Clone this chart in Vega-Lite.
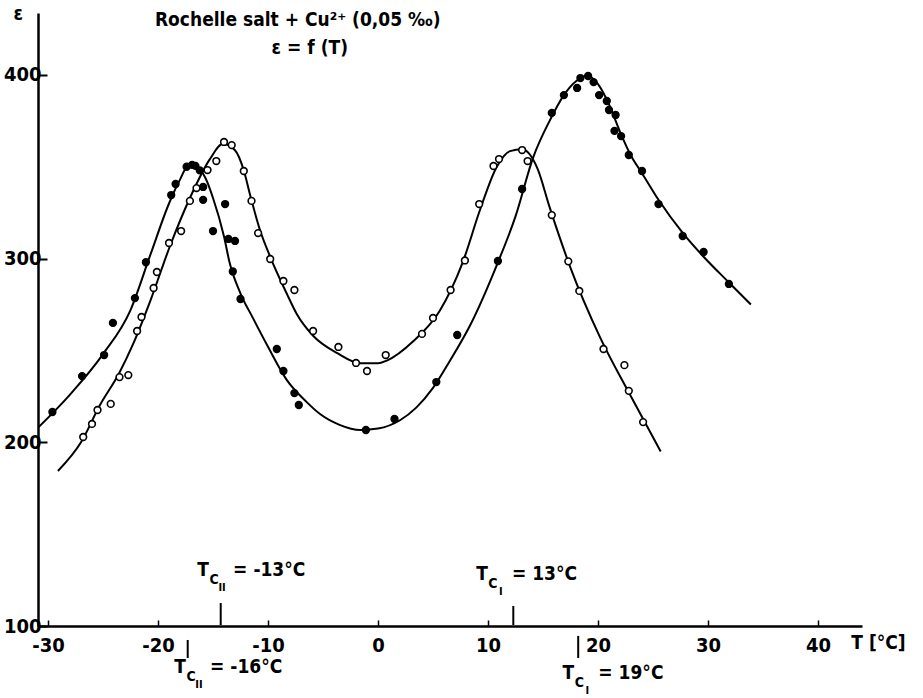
{
  "$schema": "https://vega.github.io/schema/vega-lite/v6.json",
  "width": 824,
  "height": 613,
  "autosize": "none",
  "padding": {"left": 38, "top": 13, "right": 61, "bottom": 72},
  "background": "white",
  "config": {
    "view": {"stroke": null},
    "font": "DejaVu Sans Condensed",
    "axis": {"grid": false}
  },
  "datasets": {
    "points": [
      {"T": -29.6, "eps": 216.5, "series": "filled"},
      {"T": -26.9, "eps": 236, "series": "filled"},
      {"T": -24.9, "eps": 247.5, "series": "filled"},
      {"T": -24.1, "eps": 265, "series": "filled"},
      {"T": -22.1, "eps": 278.5, "series": "filled"},
      {"T": -21.1, "eps": 298, "series": "filled"},
      {"T": -18.8, "eps": 334.6, "series": "filled"},
      {"T": -18.4, "eps": 340.6, "series": "filled"},
      {"T": -17.4, "eps": 350, "series": "filled"},
      {"T": -16.9, "eps": 351, "series": "filled"},
      {"T": -16.6, "eps": 350.5, "series": "filled"},
      {"T": -16.2, "eps": 348, "series": "filled"},
      {"T": -15.9, "eps": 339, "series": "filled"},
      {"T": -15.9, "eps": 332, "series": "filled"},
      {"T": -13.9, "eps": 329.7, "series": "filled"},
      {"T": -15, "eps": 315, "series": "filled"},
      {"T": -13.6, "eps": 310.7, "series": "filled"},
      {"T": -13, "eps": 309.6, "series": "filled"},
      {"T": -13.2, "eps": 293, "series": "filled"},
      {"T": -12.5, "eps": 278, "series": "filled"},
      {"T": -9.2, "eps": 250.8, "series": "filled"},
      {"T": -8.6, "eps": 238.8, "series": "filled"},
      {"T": -7.6, "eps": 226.8, "series": "filled"},
      {"T": -7.2, "eps": 220.3, "series": "filled"},
      {"T": -1.1, "eps": 206.7, "series": "filled"},
      {"T": 1.5, "eps": 212.7, "series": "filled"},
      {"T": 5.3, "eps": 232.8, "series": "filled"},
      {"T": 7.2, "eps": 258.4, "series": "filled"},
      {"T": 10.9, "eps": 298.7, "series": "filled"},
      {"T": 13.1, "eps": 337.9, "series": "filled"},
      {"T": 15.8, "eps": 379.3, "series": "filled"},
      {"T": 16.9, "eps": 389, "series": "filled"},
      {"T": 18.1, "eps": 392.9, "series": "filled"},
      {"T": 18.4, "eps": 398.3, "series": "filled"},
      {"T": 19.1, "eps": 399.4, "series": "filled"},
      {"T": 19.6, "eps": 396.1, "series": "filled"},
      {"T": 20.1, "eps": 389, "series": "filled"},
      {"T": 20.8, "eps": 385.8, "series": "filled"},
      {"T": 21, "eps": 380.9, "series": "filled"},
      {"T": 21.6, "eps": 378.2, "series": "filled"},
      {"T": 21.5, "eps": 369.5, "series": "filled"},
      {"T": 22.1, "eps": 366.7, "series": "filled"},
      {"T": 22.8, "eps": 356.4, "series": "filled"},
      {"T": 24, "eps": 347.7, "series": "filled"},
      {"T": 25.5, "eps": 329.7, "series": "filled"},
      {"T": 27.7, "eps": 312.3, "series": "filled"},
      {"T": 29.6, "eps": 303.6, "series": "filled"},
      {"T": 31.9, "eps": 286.2, "series": "filled"},
      {"T": -26.8, "eps": 202.9, "series": "open"},
      {"T": -26, "eps": 210, "series": "open"},
      {"T": -25.5, "eps": 217.6, "series": "open"},
      {"T": -24.3, "eps": 220.9, "series": "open"},
      {"T": -23.5, "eps": 235.5, "series": "open"},
      {"T": -22.7, "eps": 236.6, "series": "open"},
      {"T": -21.9, "eps": 260.6, "series": "open"},
      {"T": -21.5, "eps": 268.2, "series": "open"},
      {"T": -20.4, "eps": 284, "series": "open"},
      {"T": -20.1, "eps": 292.7, "series": "open"},
      {"T": -19, "eps": 308.5, "series": "open"},
      {"T": -17.9, "eps": 315, "series": "open"},
      {"T": -17.1, "eps": 331.4, "series": "open"},
      {"T": -16.5, "eps": 338.4, "series": "open"},
      {"T": -15.5, "eps": 348.2, "series": "open"},
      {"T": -14.7, "eps": 353.1, "series": "open"},
      {"T": -14, "eps": 363.5, "series": "open"},
      {"T": -13.3, "eps": 361.8, "series": "open"},
      {"T": -12.2, "eps": 347.7, "series": "open"},
      {"T": -11.5, "eps": 331.4, "series": "open"},
      {"T": -10.9, "eps": 313.9, "series": "open"},
      {"T": -9.8, "eps": 299.8, "series": "open"},
      {"T": -8.6, "eps": 287.8, "series": "open"},
      {"T": -7.6, "eps": 282.9, "series": "open"},
      {"T": -5.9, "eps": 260.6, "series": "open"},
      {"T": -3.6, "eps": 251.9, "series": "open"},
      {"T": -2, "eps": 243.2, "series": "open"},
      {"T": -1, "eps": 238.8, "series": "open"},
      {"T": 0.7, "eps": 247.5, "series": "open"},
      {"T": 4, "eps": 259, "series": "open"},
      {"T": 5, "eps": 267.7, "series": "open"},
      {"T": 6.6, "eps": 282.9, "series": "open"},
      {"T": 7.9, "eps": 299, "series": "open"},
      {"T": 9.2, "eps": 329.7, "series": "open"},
      {"T": 10.5, "eps": 350.4, "series": "open"},
      {"T": 11, "eps": 354.2, "series": "open"},
      {"T": 13.1, "eps": 359.1, "series": "open"},
      {"T": 13.6, "eps": 353.1, "series": "open"},
      {"T": 15.8, "eps": 323.7, "series": "open"},
      {"T": 17.3, "eps": 298.5, "series": "open"},
      {"T": 18.3, "eps": 282.4, "series": "open"},
      {"T": 20.5, "eps": 250.8, "series": "open"},
      {"T": 22.4, "eps": 242, "series": "open"},
      {"T": 22.8, "eps": 228, "series": "open"},
      {"T": 24.1, "eps": 211, "series": "open"}
    ],
    "curves": [
      {"T": -30.9, "eps": 208, "series": "filled"},
      {"T": -28, "eps": 226, "series": "filled"},
      {"T": -25, "eps": 248, "series": "filled"},
      {"T": -22.5, "eps": 272, "series": "filled"},
      {"T": -20.7, "eps": 302, "series": "filled"},
      {"T": -19, "eps": 330, "series": "filled"},
      {"T": -18, "eps": 343, "series": "filled"},
      {"T": -17.3, "eps": 350, "series": "filled"},
      {"T": -16.5, "eps": 350, "series": "filled"},
      {"T": -15.7, "eps": 344, "series": "filled"},
      {"T": -15, "eps": 333, "series": "filled"},
      {"T": -14, "eps": 312, "series": "filled"},
      {"T": -13.5, "eps": 298, "series": "filled"},
      {"T": -12.5, "eps": 281, "series": "filled"},
      {"T": -11.4, "eps": 268, "series": "filled"},
      {"T": -10, "eps": 252, "series": "filled"},
      {"T": -8.3, "eps": 234, "series": "filled"},
      {"T": -6.5, "eps": 222, "series": "filled"},
      {"T": -5.3, "eps": 215.5, "series": "filled"},
      {"T": -3.5, "eps": 209.5, "series": "filled"},
      {"T": -1.6, "eps": 206.7, "series": "filled"},
      {"T": 0, "eps": 207.5, "series": "filled"},
      {"T": 2, "eps": 212, "series": "filled"},
      {"T": 3.5, "eps": 219, "series": "filled"},
      {"T": 5, "eps": 229.6, "series": "filled"},
      {"T": 6.5, "eps": 244, "series": "filled"},
      {"T": 8.4, "eps": 264, "series": "filled"},
      {"T": 10.8, "eps": 296.5, "series": "filled"},
      {"T": 12.5, "eps": 323, "series": "filled"},
      {"T": 14.1, "eps": 355, "series": "filled"},
      {"T": 15.6, "eps": 375, "series": "filled"},
      {"T": 16.9, "eps": 389, "series": "filled"},
      {"T": 18, "eps": 396.5, "series": "filled"},
      {"T": 19, "eps": 399.5, "series": "filled"},
      {"T": 20, "eps": 395, "series": "filled"},
      {"T": 21, "eps": 384, "series": "filled"},
      {"T": 22, "eps": 369, "series": "filled"},
      {"T": 23, "eps": 356, "series": "filled"},
      {"T": 24, "eps": 346.5, "series": "filled"},
      {"T": 25.5, "eps": 332, "series": "filled"},
      {"T": 27.7, "eps": 314, "series": "filled"},
      {"T": 29.6, "eps": 301, "series": "filled"},
      {"T": 31.9, "eps": 287, "series": "filled"},
      {"T": 33.9, "eps": 275, "series": "filled"},
      {"T": -29.1, "eps": 184.4, "series": "open"},
      {"T": -27, "eps": 200, "series": "open"},
      {"T": -25.3, "eps": 220, "series": "open"},
      {"T": -23.5, "eps": 238, "series": "open"},
      {"T": -22.3, "eps": 253, "series": "open"},
      {"T": -20.7, "eps": 277, "series": "open"},
      {"T": -18.9, "eps": 307, "series": "open"},
      {"T": -17.1, "eps": 333, "series": "open"},
      {"T": -15.3, "eps": 354, "series": "open"},
      {"T": -14.1, "eps": 362.5, "series": "open"},
      {"T": -13, "eps": 359, "series": "open"},
      {"T": -12.2, "eps": 348, "series": "open"},
      {"T": -11.6, "eps": 334, "series": "open"},
      {"T": -10.7, "eps": 315, "series": "open"},
      {"T": -9.8, "eps": 301, "series": "open"},
      {"T": -8.3, "eps": 281, "series": "open"},
      {"T": -7.4, "eps": 270, "series": "open"},
      {"T": -5.9, "eps": 258, "series": "open"},
      {"T": -3.7, "eps": 248.5, "series": "open"},
      {"T": -1.6, "eps": 243, "series": "open"},
      {"T": 0, "eps": 243, "series": "open"},
      {"T": 0.8, "eps": 244.5, "series": "open"},
      {"T": 3.2, "eps": 255, "series": "open"},
      {"T": 5.6, "eps": 271.5, "series": "open"},
      {"T": 7.7, "eps": 298, "series": "open"},
      {"T": 9.3, "eps": 327, "series": "open"},
      {"T": 10.8, "eps": 350, "series": "open"},
      {"T": 12, "eps": 358.5, "series": "open"},
      {"T": 13.1, "eps": 359.5, "series": "open"},
      {"T": 14.5, "eps": 349, "series": "open"},
      {"T": 15.6, "eps": 328, "series": "open"},
      {"T": 17.5, "eps": 295, "series": "open"},
      {"T": 20.2, "eps": 257, "series": "open"},
      {"T": 22.9, "eps": 226, "series": "open"},
      {"T": 25.7, "eps": 195, "series": "open"}
    ],
    "markers": [
      {"T": -14.3, "eps": 112.5, "eps2": 100.5},
      {"T": 12.3, "eps": 110.9, "eps2": 100.5},
      {"T": -17.3, "eps": 92.4, "eps2": 82.6},
      {"T": 18.2, "eps": 94.6, "eps2": 82.6}
    ],
    "tc": [
      {"T": -15.9, "eps": 130.5, "sub": "II", "rest": "= -13°C"},
      {"T": 9.45, "eps": 128.5, "sub": "I", "rest": "= 13°C"},
      {"T": -18, "eps": 77.5, "sub": "II", "rest": "= -16°C"},
      {"T": 17.3, "eps": 74.5, "sub": "I", "rest": "= 19°C"}
    ],
    "labels": [
      {"T": -7.3, "eps": 429.9, "text": "Rochelle salt + Cu²⁺ (0,05 ‰)"},
      {"T": -6.2, "eps": 414.6, "text": "ε = f (T)"},
      {"T": -32.7, "eps": 433, "text": "ε"},
      {"T": 45.5, "eps": 90.7, "text": "T [°C]"}
    ]
  },
  "layer": [
    {
      "data": {"name": "curves"},
      "mark": {"type": "line", "interpolate": "monotone", "color": "black", "strokeWidth": 2},
      "encoding": {
        "x": {
          "field": "T", "type": "quantitative",
          "scale": {"domain": [-30.91, 44.0], "nice": false, "zero": false},
          "axis": {
            "values": [-30, -20, -10, 0, 10, 20, 30, 40],
            "labelExpr": "'' + datum.value",
            "title": null,
            "domainColor": "black", "domainWidth": 2.5,
            "tickColor": "black", "tickWidth": 1.5, "tickSize": -6,
            "labelPadding": 15, "labelFontSize": 20, "labelColor": "black",
            "labelFont": "DejaVu Sans Condensed", "labelFontWeight": "bold",
            "labelFlush": false
          }
        },
        "y": {
          "field": "eps", "type": "quantitative",
          "scale": {"domain": [100, 433.7], "nice": false, "zero": false},
          "axis": {
            "values": [100, 200, 300, 400],
            "title": null,
            "domainColor": "black", "domainWidth": 2.5,
            "tickColor": "black", "tickWidth": 2, "tickSize": -9,
            "labelPadding": 6, "labelFontSize": 20, "labelColor": "black",
            "labelFont": "DejaVu Sans Condensed", "labelFontWeight": "bold",
            "labelFlush": false
          }
        },
        "detail": {"field": "series", "type": "nominal"}
      }
    },
    {
      "data": {"name": "points"},
      "mark": {"type": "point", "filled": true, "stroke": "black", "strokeWidth": 1.6, "size": 45, "opacity": 1},
      "encoding": {
        "x": {"field": "T", "type": "quantitative"},
        "y": {"field": "eps", "type": "quantitative"},
        "fill": {
          "field": "series", "type": "nominal",
          "scale": {"domain": ["filled", "open"], "range": ["black", "white"]},
          "legend": null
        }
      }
    },
    {
      "data": {"name": "markers"},
      "mark": {"type": "rule", "color": "black", "strokeWidth": 2},
      "encoding": {
        "x": {"field": "T", "type": "quantitative"},
        "y": {"field": "eps", "type": "quantitative"},
        "y2": {"field": "eps2"}
      }
    },
    {
      "data": {"name": "tc"},
      "mark": {"type": "text", "text": "T", "fontSize": 19, "font": "DejaVu Sans Condensed", "fontWeight": "bold", "align": "center", "baseline": "middle", "color": "black"},
      "encoding": {
        "x": {"field": "T", "type": "quantitative"},
        "y": {"field": "eps", "type": "quantitative"}
      }
    },
    {
      "data": {"name": "tc"},
      "mark": {"type": "text", "text": "C", "fontSize": 14, "font": "DejaVu Sans Condensed", "fontWeight": "bold", "align": "center", "baseline": "middle", "dx": 11, "dy": 10, "color": "black"},
      "encoding": {
        "x": {"field": "T", "type": "quantitative"},
        "y": {"field": "eps", "type": "quantitative"}
      }
    },
    {
      "data": {"name": "tc"},
      "mark": {"type": "text", "fontSize": 11, "font": "DejaVu Sans Condensed", "fontWeight": "bold", "align": "center", "baseline": "middle", "dx": 19, "dy": 18, "color": "black"},
      "encoding": {
        "x": {"field": "T", "type": "quantitative"},
        "y": {"field": "eps", "type": "quantitative"},
        "text": {"field": "sub"}
      }
    },
    {
      "data": {"name": "tc"},
      "mark": {"type": "text", "fontSize": 19, "font": "DejaVu Sans Condensed", "fontWeight": "bold", "align": "left", "baseline": "middle", "dx": 30, "color": "black"},
      "encoding": {
        "x": {"field": "T", "type": "quantitative"},
        "y": {"field": "eps", "type": "quantitative"},
        "text": {"field": "rest"}
      }
    },
    {
      "data": {"name": "labels"},
      "mark": {"type": "text", "fontSize": 19, "font": "DejaVu Sans Condensed", "fontWeight": "bold", "align": "center", "baseline": "middle", "color": "black"},
      "encoding": {
        "x": {"field": "T", "type": "quantitative"},
        "y": {"field": "eps", "type": "quantitative"},
        "text": {"field": "text"}
      }
    }
  ]
}
